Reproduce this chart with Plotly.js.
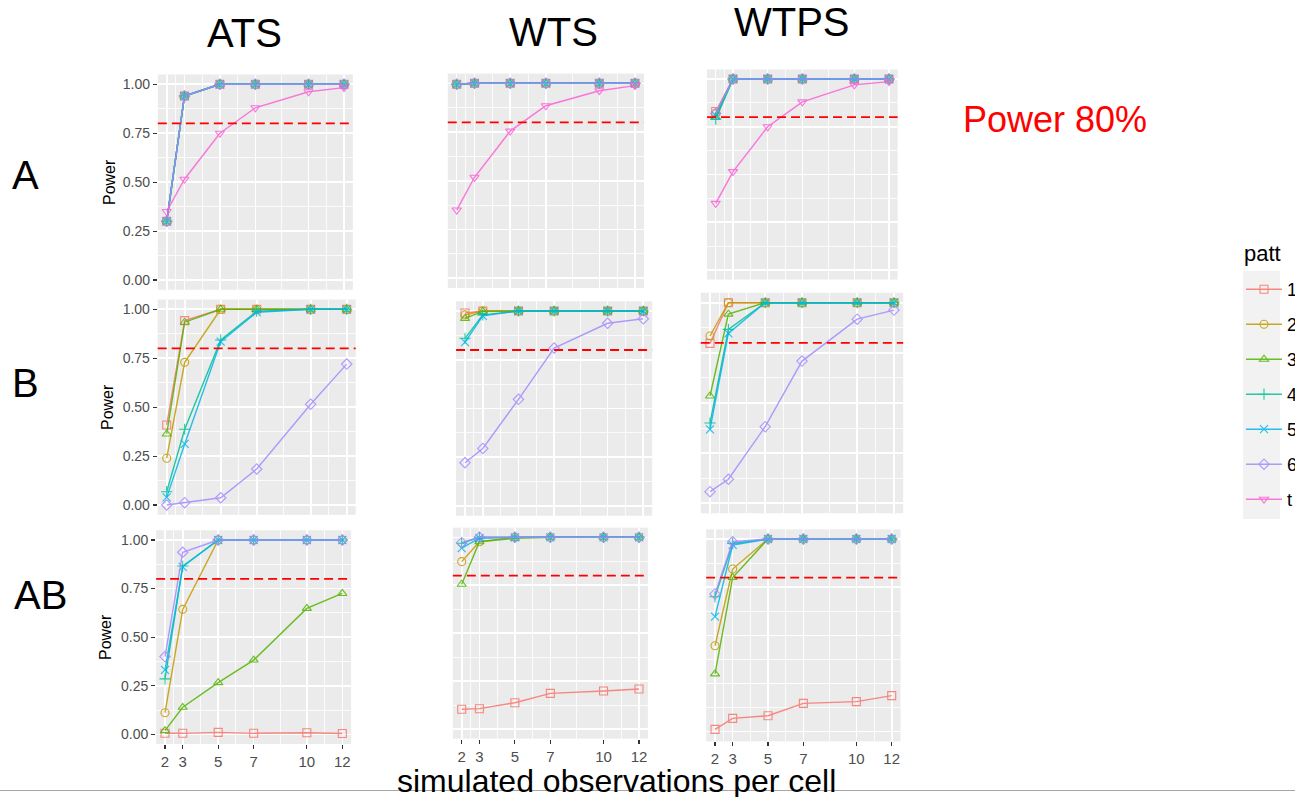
<!DOCTYPE html>
<html><head><meta charset="utf-8">
<script src="https://cdn.plot.ly/plotly-3.0.1.min.js"></script>
<style>html,body{margin:0;padding:0;background:#fff;}#chart{width:1295px;height:797px;}</style>
</head><body><div id="chart"></div>
<script>
// ---------------- data ----------------
const xObs = [2, 3, 5, 7, 10, 12];
const seriesNames = ['1', '2', '3', '4', '5', '6', 't'];
const testNames = ['ATS', 'WTS', 'WTPS'];
const effectNames = ['A', 'B', 'AB'];
const yTickVals = [0, 0.25, 0.5, 0.75, 1];
const powerTarget = 0.8;

// rows: series 1..6, t  (null = not present)
const ATS_A = [
  [0.30, 0.94, 1, 1, 1, 1],
  [0.30, 0.94, 1, 1, 1, 1],
  [0.30, 0.94, 1, 1, 1, 1],
  [0.30, 0.94, 1, 1, 1, 1],
  [0.30, 0.94, 1, 1, 1, 1],
  [0.30, 0.94, 1, 1, 1, 1],
  [0.35, 0.515, 0.75, 0.88, 0.962, 0.983]
];
const WTS_A = [
  [0.995, 1, 1, 1, 1, 1],
  [0.995, 1, 1, 1, 1, 1],
  [0.995, 1, 1, 1, 1, 1],
  [0.995, 1, 1, 1, 1, 1],
  [0.995, 1, 1, 1, 1, 1],
  [0.995, 1, 1, 1, 1, 1],
  [0.35, 0.518, 0.755, 0.885, 0.962, 0.988]
];
const WTPS_A = [
  [0.83, 1, 1, 1, 1, 1],
  [0.82, 1, 1, 1, 1, 1],
  [0.80, 1, 1, 1, 1, 1],
  [0.79, 1, 1, 1, 1, 1],
  [0.81, 1, 1, 1, 1, 1],
  [0.82, 1, 1, 1, 1, 1],
  [0.349, 0.515, 0.75, 0.88, 0.969, 0.986]
];
const ATS_B = [
  [0.409, 0.942, 1, 1, 1, 1],
  [0.239, 0.729, 1, 1, 1, 1],
  [0.363, 0.934, 1, 1, 1, 1],
  [0.068, 0.387, 0.843, 0.99, 1, 1],
  [0.039, 0.312, 0.835, 0.985, 1, 1],
  [0.0, 0.012, 0.037, 0.184, 0.515, 0.72],
  null
];
const WTS_B = [
  [0.99, 1, 1, 1, 1, 1],
  [0.98, 1, 1, 1, 1, 1],
  [0.962, 0.998, 1, 1, 1, 1],
  [0.86, 0.98, 1, 1, 1, 1],
  [0.84, 0.975, 1, 1, 1, 1],
  [0.222, 0.295, 0.547, 0.81, 0.937, 0.96],
  null
];
const WTPS_B = [
  [0.797, 1, 1, 1, 1, 1],
  [0.834, 1, 1, 1, 1, 1],
  [0.535, 0.943, 1, 1, 1, 1],
  [0.40, 0.867, 1, 1, 1, 1],
  [0.369, 0.847, 1, 1, 1, 1],
  [0.058, 0.12, 0.382, 0.709, 0.918, 0.963],
  null
];
const ATS_AB = [
  [0.005, 0.005, 0.01, 0.005, 0.008, 0.004],
  [0.111, 0.643, 1, 1, 1, 1],
  [0.019, 0.139, 0.266, 0.382, 0.648, 0.725],
  [0.285, 0.866, 1, 1, 1, 1],
  [0.331, 0.862, 1, 1, 1, 1],
  [0.40, 0.937, 1, 1, 1, 1],
  null
];
const WTS_AB = [
  [0.103, 0.106, 0.137, 0.186, 0.198, 0.209],
  [0.873, 0.977, 1, 1, 1, 1],
  [0.755, 0.977, 0.995, 1, 1, 1],
  [0.969, 1, 1, 1, 1, 1],
  [0.943, 0.995, 1, 1, 1, 1],
  [0.972, 1, 1, 1, 1, 1],
  null
];
const WTPS_AB = [
  [0.012, 0.069, 0.083, 0.147, 0.156, 0.187],
  [0.446, 0.844, 1, 1, 1, 1],
  [0.30, 0.80, 1, 1, 1, 1],
  [0.70, 0.977, 1, 1, 1, 1],
  [0.597, 0.969, 1, 1, 1, 1],
  [0.715, 0.986, 1, 1, 1, 1],
  null
];

// ---------------- styling / layout ----------------
const W = 1295, H = 797;
const FONT = 'Liberation Sans, Arial, sans-serif';
const colors = ['#F8766D', '#C49A00', '#53B400', '#00C094', '#00B6EB', '#A58AFF', '#FB61D7'];
const symbols = ['square-open', 'circle-open', 'triangle-up-open', 'cross-thin-open', 'x-thin-open', 'diamond-open', 'triangle-down-open'];

// pixel anchors: [px of x=2, px of x=12, py of y=1, py of y=0]
const panels = [
  {data: ATS_A,   row: 0, col: 0, anc: [166.7, 344.0, 84.3, 280.0]},
  {data: WTS_A,   row: 0, col: 1, anc: [456.7, 635.0, 83.3, 278.3]},
  {data: WTPS_A,  row: 0, col: 2, anc: [715.7, 889.0, 79.0, 270.0]},
  {data: ATS_B,   row: 1, col: 0, anc: [166.7, 346.7, 309.3, 505.0]},
  {data: WTS_B,   row: 1, col: 1, anc: [465.0, 643.3, 311.0, 506.0]},
  {data: WTPS_B,  row: 1, col: 2, anc: [710.0, 894.0, 302.7, 503.3]},
  {data: ATS_AB,  row: 2, col: 0, anc: [165.0, 342.3, 540.0, 734.3]},
  {data: WTS_AB,  row: 2, col: 1, anc: [461.7, 639.0, 537.3, 729.0]},
  {data: WTPS_AB, row: 2, col: 2, anc: [715.0, 891.7, 539.0, 731.7]}
];

const traces = [];
const layout = {
  width: W, height: H,
  margin: {l: 0, r: 0, t: 0, b: 0, pad: 0, autoexpand: false},
  paper_bgcolor: '#FFFFFF',
  plot_bgcolor: '#EBEBEB',
  font: {family: FONT, color: '#000000'},
  showlegend: true,
  legend: {
    x: 1241 / W, xanchor: 'left', y: 1 - 271 / H, yanchor: 'top',
    bgcolor: 'rgba(0,0,0,0)', borderwidth: 0,
    font: {size: 18, color: '#000000'},
    itemwidth: 36,
    traceorder: 'grouped', tracegroupgap: 8.6,
    itemclick: false, itemdoubleclick: false
  },
  shapes: [],
  annotations: []
};

// legend key background
layout.shapes.push({type: 'rect', xref: 'paper', yref: 'paper', layer: 'below',
  x0: 1243 / W, x1: 1280 / W, y0: 1 - 519 / H, y1: 1 - 271 / H,
  fillcolor: '#F2F2F2', line: {width: 0}});

panels.forEach((p, i) => {
  const k = i + 1;
  const xs = k === 1 ? 'x' : 'x' + k;
  const ys = k === 1 ? 'y' : 'y' + k;
  const [p2, p12, p1, p0] = p.anc;
  const u = (p12 - p2) / 10;
  const left = p2 - 0.5 * u, right = p12 + 0.5 * u;
  const s = p0 - p1;
  const top = p1 - 0.05 * s, bottom = p0 + 0.05 * s;
  const showX = p.row === 2;
  const showY = p.col === 0;

  layout['xaxis' + (k === 1 ? '' : k)] = {
    domain: [left / W, right / W], range: [1.5, 12.5], anchor: ys,
    tickmode: 'array', tickvals: xObs, ticktext: xObs.map(String),
    showticklabels: showX, ticks: showX ? 'outside' : '', ticklen: 4, tickwidth: 1.1, tickcolor: '#333333',
    tickfont: {size: 15, color: '#4D4D4D', family: FONT},
    showgrid: true, gridcolor: '#FFFFFF', gridwidth: 1.6,
    minor: {tickmode: 'array', tickvals: [2.5, 4, 6, 8.5, 11], showgrid: true, gridcolor: '#FFFFFF', gridwidth: 0.8, ticks: ''},
    zeroline: false, showline: false, fixedrange: true
  };
  layout['yaxis' + (k === 1 ? '' : k)] = {
    domain: [1 - bottom / H, 1 - top / H], range: [-0.05, 1.05], anchor: xs,
    tickmode: 'array', tickvals: yTickVals, ticktext: yTickVals.map(v => v.toFixed(2)),
    showticklabels: showY, ticks: showY ? 'outside' : '', ticklen: 4, tickwidth: 1.1, tickcolor: '#333333',
    tickfont: {size: 14, color: '#4D4D4D', family: FONT},
    showgrid: true, gridcolor: '#FFFFFF', gridwidth: 1.6,
    minor: {tickmode: 'array', tickvals: [0.125, 0.375, 0.625, 0.875], showgrid: true, gridcolor: '#FFFFFF', gridwidth: 0.8, ticks: ''},
    zeroline: false, showline: false, fixedrange: true
  };

  p.data.forEach((row, si) => {
    if (!row) return;
    traces.push({
      type: 'scatter', mode: 'lines+markers',
      x: xObs, y: row, xaxis: xs, yaxis: ys,
      name: seriesNames[si], legendgroup: seriesNames[si], showlegend: i === 0,
      line: {color: colors[si], width: 1.4},
      marker: {symbol: symbols[si], color: colors[si], size: 8, line: {width: 1.1, color: colors[si]}},
      opacity: 0.85, hoverinfo: 'skip'
    });
  });

  // 80% power reference line
  layout.shapes.push({type: 'line', xref: xs + ' domain', yref: ys, x0: 0, x1: 1,
    y0: powerTarget, y1: powerTarget, layer: 'above',
    line: {color: '#FF0000', width: 1.8, dash: '9px,5px'}});
});

// text labels
function ann(text, px, py, size, extra) {
  layout.annotations.push(Object.assign({
    text: text, xref: 'paper', yref: 'paper', x: px / W, y: 1 - py / H,
    xanchor: 'center', yanchor: 'middle', showarrow: false,
    font: {family: FONT, size: size, color: '#000000'}
  }, extra || {}));
}
ann(testNames[0], 244, 33, 40);
ann(testNames[1], 553, 32, 40);
ann(testNames[2], 792, 22, 40);
ann(effectNames[0], 25, 175, 40);
ann(effectNames[1], 25, 383, 40);
ann(effectNames[2], 40, 595, 40);
ann('Power', 110, 182, 16, {textangle: -90});
ann('Power', 108, 407, 16, {textangle: -90});
ann('Power', 105, 637, 16, {textangle: -90});
ann('Power 80%', 1055, 119, 36, {font: {family: FONT, size: 36, color: '#FF0000'}});
ann('patt', 1242, 253, 22, {xanchor: 'left'});

// bottom separator line and x title
layout.shapes.push({type: 'line', xref: 'paper', yref: 'paper', x0: 0, x1: 1,
  y0: 1 - 790.5 / H, y1: 1 - 790.5 / H, layer: 'above', line: {color: '#A6A6A6', width: 1.2}});
ann('simulated observations per cell', 616, 781, 32);

Plotly.newPlot('chart', traces, layout, {displayModeBar: false, staticPlot: true});
</script>
</body></html>
